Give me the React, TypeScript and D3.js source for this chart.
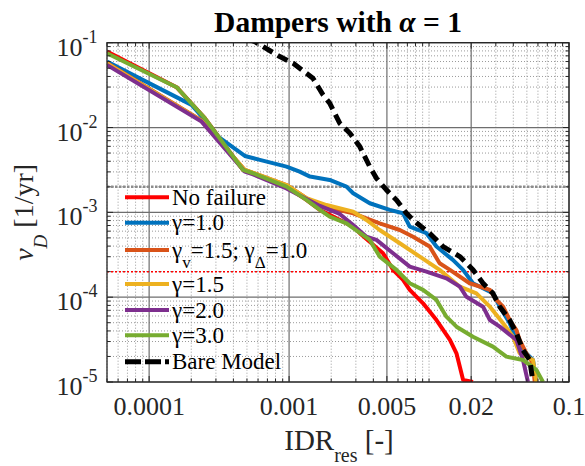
import React from 'react';
import * as d3 from 'd3';

type Pt = [number, number];

// ---------- axis values ----------
const xDomain: [number, number] = [5e-5, 0.1];
const yDomain: [number, number] = [1e-5, 1e-1];
const xTicks = [0.0001, 0.001, 0.005, 0.02, 0.1];
const xTickLabels = ['0.0001', '0.001', '0.005', '0.02', '0.1'];
const yTicks = [1e-5, 1e-4, 1e-3, 1e-2, 1e-1];
const yTickExponents = ['-5', '-4', '-3', '-2', '-1'];
const grayLevel = 2e-3;
const redLevel = 2e-4;

// ---------- series values [IDR_res, nu_D] ----------
const noFailure: Pt[] = [
  [5.0e-5, 0.0785], [1.57e-4, 0.0299], [2.5e-4, 0.0129], [4.69e-4, 3.16e-3], [5.53e-4, 2.89e-3],
  [9.58e-4, 2.01e-3], [1.33e-3, 1.4e-3], [1.66e-3, 1.07e-3], [2.87e-3, 6.77e-4], [3.2e-3, 5.68e-4],
  [4.69e-3, 3.3e-4], [5.53e-3, 2.1e-4], [6.52e-3, 1.6e-4], [7.28e-3, 1.22e-4], [9.06e-3, 8.47e-5],
  [1.13e-2, 5.38e-5], [1.41e-2, 3.13e-5], [1.57e-2, 2.18e-5], [1.75e-2, 1.06e-5], [2.06e-2, 1.0e-5],
];
const gamma10: Pt[] = [
  [5.0e-5, 0.0598], [2.01e-4, 0.0185], [2.5e-4, 0.0123], [3.11e-4, 7.82e-3], [4.83e-4, 4.62e-3],
  [6.18e-4, 4.15e-3], [9.58e-4, 3.46e-3], [1.19e-3, 3.02e-3], [1.41e-3, 2.64e-3], [1.95e-3, 2.41e-3],
  [2.57e-3, 2.01e-3], [2.87e-3, 1.68e-3], [3.77e-3, 1.28e-3], [5.24e-3, 1.07e-3], [6.52e-3, 9.75e-4],
  [7.28e-3, 6.77e-4], [9.58e-3, 5.68e-4], [1.13e-2, 3.95e-4], [1.48e-2, 2.75e-4], [1.75e-2, 2.1e-4],
  [2.06e-2, 1.46e-4], [2.86e-2, 1.11e-4], [3.2e-2, 7.73e-5], [3.77e-2, 4.92e-5], [4.21e-2, 3.13e-5],
  [4.96e-2, 2.18e-5], [5.53e-2, 1.82e-5], [5.85e-2, 1.0e-5],
];
const gammaV15D10: Pt[] = [
  [5.0e-5, 0.0578], [2.37e-4, 0.0121], [4.83e-4, 3.16e-3], [5.53e-4, 2.92e-3], [9.58e-4, 2.1e-3],
  [1.33e-3, 1.47e-3], [1.66e-3, 1.2e-3], [2.87e-3, 9.75e-4], [4.44e-3, 7.43e-4], [6.18e-3, 6.19e-4],
  [7.69e-3, 5.16e-4], [1.01e-2, 3.95e-4], [1.19e-2, 2.51e-4], [1.41e-2, 2.1e-4], [1.95e-2, 1.46e-4],
  [2.72e-2, 1.22e-4], [3.03e-2, 9.27e-5], [3.38e-2, 7.73e-5], [3.77e-2, 5.38e-5], [4.21e-2, 4.1e-5],
  [4.44e-2, 3.13e-5], [4.96e-2, 2.18e-5], [5.53e-2, 1.66e-5], [5.69e-2, 1.0e-5],
];
const gamma15: Pt[] = [
  [5.0e-5, 0.057], [2.37e-4, 0.01197], [4.83e-4, 3.16e-3], [5.53e-4, 2.92e-3], [9.58e-4, 2.1e-3],
  [1.33e-3, 1.47e-3], [1.85e-3, 1.22e-3], [2.87e-3, 1.02e-3], [3.57e-3, 8.12e-4], [4.44e-3, 6.19e-4],
  [6.18e-3, 4.32e-4], [8.59e-3, 3.01e-4], [1.19e-2, 2.1e-4], [1.66e-2, 1.33e-4], [2.18e-2, 1.11e-4],
  [2.72e-2, 7.73e-5], [3.38e-2, 4.92e-5], [3.98e-2, 3.42e-5], [4.44e-2, 2.18e-5], [5.53e-2, 1.82e-5],
  [5.85e-2, 1.0e-5],
];
const gamma20: Pt[] = [
  [5.0e-5, 0.0547], [2.37e-4, 0.01175], [4.83e-4, 3.02e-3], [5.53e-4, 2.8e-3], [9.58e-4, 1.91e-3],
  [1.66e-3, 1.19e-3], [2.3e-3, 9.57e-4], [2.87e-3, 7.09e-4], [3.57e-3, 5.16e-4], [4.21e-3, 4.73e-4],
  [5.53e-3, 3.3e-4], [7.28e-3, 2.29e-4], [9.58e-3, 2.0e-4], [1.33e-2, 1.67e-4], [1.66e-2, 1.33e-4],
  [1.85e-2, 1.01e-4], [2.43e-2, 7.73e-5], [2.72e-2, 5.38e-5], [3.2e-2, 4.49e-5], [4.21e-2, 3.13e-5],
  [4.69e-2, 1.82e-5], [5.09e-2, 1.0e-5],
];
const gamma30: Pt[] = [
  [5.0e-5, 0.0752], [1.57e-4, 0.0299], [2.5e-4, 0.0129], [4.69e-4, 3.16e-3], [5.53e-4, 2.89e-3],
  [9.58e-4, 2.01e-3], [1.33e-3, 1.4e-3], [1.66e-3, 1.07e-3], [1.95e-3, 8.89e-4], [2.57e-3, 7.43e-4],
  [3.77e-3, 4.73e-4], [4.44e-3, 3.01e-4], [5.85e-3, 2.1e-4], [7.28e-3, 1.46e-4], [9.06e-3, 1.22e-4],
  [1.13e-2, 9.27e-5], [1.33e-2, 5.89e-5], [1.57e-2, 4.49e-5], [2.06e-2, 3.42e-5], [2.86e-2, 2.61e-5],
  [3.57e-2, 1.99e-5], [4.69e-2, 1.82e-5], [5.85e-2, 1.39e-5], [6.52e-2, 1.0e-5],
];
const bareModel: Pt[] = [
  [5.08e-4, 0.11], [5.69e-4, 0.103], [8.58e-4, 0.0686], [1.07e-3, 0.0573], [1.48e-3, 0.0381],
  [1.75e-3, 0.0242], [1.95e-3, 0.0194], [2.3e-3, 0.01125], [2.72e-3, 8.57e-3], [3.2e-3, 5.96e-3],
  [3.77e-3, 3.46e-3], [4.21e-3, 2.52e-3], [4.96e-3, 1.84e-3], [5.85e-3, 1.4e-3], [6.9e-3, 9.75e-4],
  [7.69e-3, 8.12e-4], [1.01e-2, 5.67e-4], [1.26e-2, 3.95e-4], [1.66e-2, 3.01e-4], [2.06e-2, 2.1e-4],
  [2.43e-2, 1.46e-4], [2.86e-2, 1.11e-4], [3.2e-2, 7.73e-5], [3.77e-2, 5.38e-5], [4.21e-2, 3.75e-5],
  [4.69e-2, 2.38e-5], [5.24e-2, 1.82e-5], [5.53e-2, 1.0e-5],
];

// ---------- legend labels (text segments, sub = subscript) ----------
type Seg = { t: string; sub?: boolean };
const labelNoFailure: Seg[] = [{ t: 'No failure' }];
const labelGamma10: Seg[] = [{ t: 'γ=1.0' }];
const labelGammaV: Seg[] = [{ t: 'γ' }, { t: 'v', sub: true }, { t: '=1.5; γ' }, { t: 'Δ', sub: true }, { t: '=1.0' }];
const labelGamma15: Seg[] = [{ t: 'γ=1.5' }];
const labelGamma20: Seg[] = [{ t: 'γ=2.0' }];
const labelGamma30: Seg[] = [{ t: 'γ=3.0' }];
const labelBare: Seg[] = [{ t: 'Bare Model' }];

const series = [
  { data: noFailure, label: labelNoFailure, color: '#FF0000', width: 4, dash: undefined as string | undefined, legendDash: undefined as string | undefined },
  { data: gamma10, label: labelGamma10, color: '#0072BD', width: 4, dash: undefined, legendDash: undefined },
  { data: gammaV15D10, label: labelGammaV, color: '#D95319', width: 4, dash: undefined, legendDash: undefined },
  { data: gamma15, label: labelGamma15, color: '#EDB120', width: 4, dash: undefined, legendDash: undefined },
  { data: gamma20, label: labelGamma20, color: '#7E2F8E', width: 4, dash: undefined, legendDash: undefined },
  { data: gamma30, label: labelGamma30, color: '#77AC30', width: 4, dash: undefined, legendDash: undefined },
  { data: bareModel, label: labelBare, color: '#000000', width: 5, dash: '11,6', legendDash: '16,4' },
];

const W = 585;
const H = 466;
const M = { left: 107, right: 569, top: 42.7, bottom: 382 };
const FONT = '"Liberation Serif", "Times New Roman", Times, serif';
const fontStyle = { fontFamily: FONT };

function logValues(dom: [number, number]): number[] {
  const out: number[] = [];
  const e0 = Math.floor(Math.log10(dom[0]));
  const e1 = Math.ceil(Math.log10(dom[1]));
  for (let e = e0; e <= e1; e++) {
    for (let m = 1; m <= 9; m++) {
      const v = m * Math.pow(10, e);
      if (v >= dom[0] * 0.9999 && v <= dom[1] * 1.0001) out.push(v);
    }
  }
  return out;
}
const inList = (v: number, arr: number[]) => arr.some((t) => Math.abs(Math.log10(v) - Math.log10(t)) < 1e-6);

function SegText({ segs, x, y, size, subSize, subDy }: { segs: Seg[]; x: number; y: number; size: number; subSize: number; subDy: number }) {
  const parts: React.ReactNode[] = [];
  let cur = 0;
  segs.forEach((s, i) => {
    const target = s.sub ? subDy : 0;
    const dy = target - cur;
    cur = target;
    parts.push(
      <tspan key={i} dy={dy} fontSize={s.sub ? subSize : size}>
        {s.t}
      </tspan>
    );
  });
  return (
    <text x={x} y={y} fontSize={size} style={fontStyle} fill="#000">
      {parts}
    </text>
  );
}

export default function App() {
  const x = d3.scaleLog().domain(xDomain).range([M.left, M.right]);
  const y = d3.scaleLog().domain(yDomain).range([M.bottom, M.top]);
  const line = d3
    .line<Pt>()
    .x((d) => x(d[0]))
    .y((d) => y(d[1]));

  const xAll = logValues(xDomain);
  const yAll = logValues(yDomain);
  const xMinor = xAll.filter((v) => !inList(v, xTicks));
  const yMinor = yAll.filter((v) => !inList(v, yTicks));

  const legendLineY = [197.3, 222.7, 250, 284, 310, 335.3, 361.7];
  const pw = M.right - M.left;
  const ph = M.bottom - M.top;
  const cx = (M.left + M.right) / 2;
  const cy = (M.top + M.bottom) / 2;

  return (
    <svg
      width={W}
      height={H}
      viewBox={`0 0 ${W} ${H}`}
      style={{ position: 'absolute', left: 0, top: 0, background: '#fff', fontFamily: FONT }}
    >
      <defs>
        <clipPath id="plotClip">
          <rect x={M.left} y={M.top} width={pw} height={ph} />
        </clipPath>
      </defs>
      <rect x={0} y={0} width={W} height={H} fill="#fff" />
      <rect x={M.left} y={M.top} width={pw} height={ph} fill="#fff" />

      {/* minor grid */}
      <g stroke="#9a9a9a" strokeWidth={1} strokeDasharray="1,2" fill="none">
        {xMinor.map((v, i) => (
          <line key={'xm' + i} x1={x(v)} x2={x(v)} y1={M.top} y2={M.bottom} />
        ))}
        {yMinor.map((v, i) => (
          <line key={'ym' + i} x1={M.left} x2={M.right} y1={y(v)} y2={y(v)} />
        ))}
      </g>
      {/* major grid */}
      <g stroke="#6e6e6e" strokeWidth={1.2} fill="none">
        {xTicks.map((v, i) => (
          <line key={'xg' + i} x1={x(v)} x2={x(v)} y1={M.top} y2={M.bottom} />
        ))}
        {yTicks.map((v, i) => (
          <line key={'yg' + i} x1={M.left} x2={M.right} y1={y(v)} y2={y(v)} />
        ))}
      </g>

      {/* reference levels */}
      <line x1={M.left} x2={M.right} y1={y(grayLevel)} y2={y(grayLevel)} stroke="#8c8c8c" strokeWidth={2.6} strokeDasharray="2.5,1.5" />
      <line x1={M.left} x2={M.right} y1={y(redLevel)} y2={y(redLevel)} stroke="#FF0000" strokeWidth={1.5} strokeDasharray="2,2" />

      {/* curves */}
      <g clipPath="url(#plotClip)" fill="none">
        {series.map((s, i) => (
          <path
            key={'s' + i}
            d={line(s.data) || ''}
            stroke={s.color}
            strokeWidth={s.width}
            strokeDasharray={s.dash}
            strokeLinejoin="round"
          />
        ))}
      </g>

      {/* ticks */}
      <g stroke="#262626" strokeWidth={1}>
        {xAll.map((v, i) => {
          const len = inList(v, xTicks) ? 6 : 3.5;
          return (
            <g key={'xt' + i}>
              <line x1={x(v)} x2={x(v)} y1={M.bottom} y2={M.bottom - len} />
              <line x1={x(v)} x2={x(v)} y1={M.top} y2={M.top + len} />
            </g>
          );
        })}
        {yAll.map((v, i) => {
          const len = inList(v, yTicks) ? 6 : 3.5;
          return (
            <g key={'yt' + i}>
              <line x1={M.left} x2={M.left + len} y1={y(v)} y2={y(v)} />
              <line x1={M.right} x2={M.right - len} y1={y(v)} y2={y(v)} />
            </g>
          );
        })}
      </g>
      <rect x={M.left} y={M.top} width={pw} height={ph} fill="none" stroke="#262626" strokeWidth={1.3} />

      {/* tick labels */}
      {xTicks.map((v, i) => (
        <text key={'xl' + i} x={x(v)} y={415} textAnchor="middle" fontSize={26} fill="#262626" style={fontStyle}>
          {xTickLabels[i]}
        </text>
      ))}
      {yTicks.map((v, i) => (
        <text key={'yl' + i} x={97.5} y={y(v) + 13} textAnchor="end" fontSize={26} fill="#262626" style={fontStyle}>
          <tspan>10</tspan>
          <tspan dy={-13} fontSize={18}>
            {yTickExponents[i]}
          </tspan>
        </text>
      ))}

      {/* title */}
      <text x={cx} y={32} textAnchor="middle" fontSize={29.5} fontWeight="bold" fill="#000" style={fontStyle}>
        <tspan>Dampers with </tspan>
        <tspan fontStyle="italic">α</tspan>
        <tspan> = 1</tspan>
      </text>

      {/* axis labels */}
      <text x={cx + 1} y={450} textAnchor="middle" fontSize={29} fill="#262626" style={fontStyle}>
        <tspan>IDR</tspan>
        <tspan dy={12} fontSize={20}>res</tspan>
        <tspan dy={-12}> [-]</tspan>
      </text>
      <text transform={`translate(33,${cy}) rotate(-90)`} textAnchor="middle" fontSize={28} fill="#262626" style={fontStyle}>
        <tspan fontStyle="italic">ν</tspan>
        <tspan dy={14} fontSize={19} fontStyle="italic">D</tspan>
        <tspan dy={-14}> [1/yr]</tspan>
      </text>

      {/* legend */}
      {series.map((s, i) => (
        <g key={'lg' + i}>
          <line
            x1={125}
            x2={169}
            y1={legendLineY[i]}
            y2={legendLineY[i]}
            stroke={s.color}
            strokeWidth={s.width}
            strokeDasharray={s.legendDash}
          />
          <SegText segs={s.label} x={172} y={legendLineY[i] + 7.5} size={23} subSize={17} subDy={10} />
        </g>
      ))}
    </svg>
  );
}
